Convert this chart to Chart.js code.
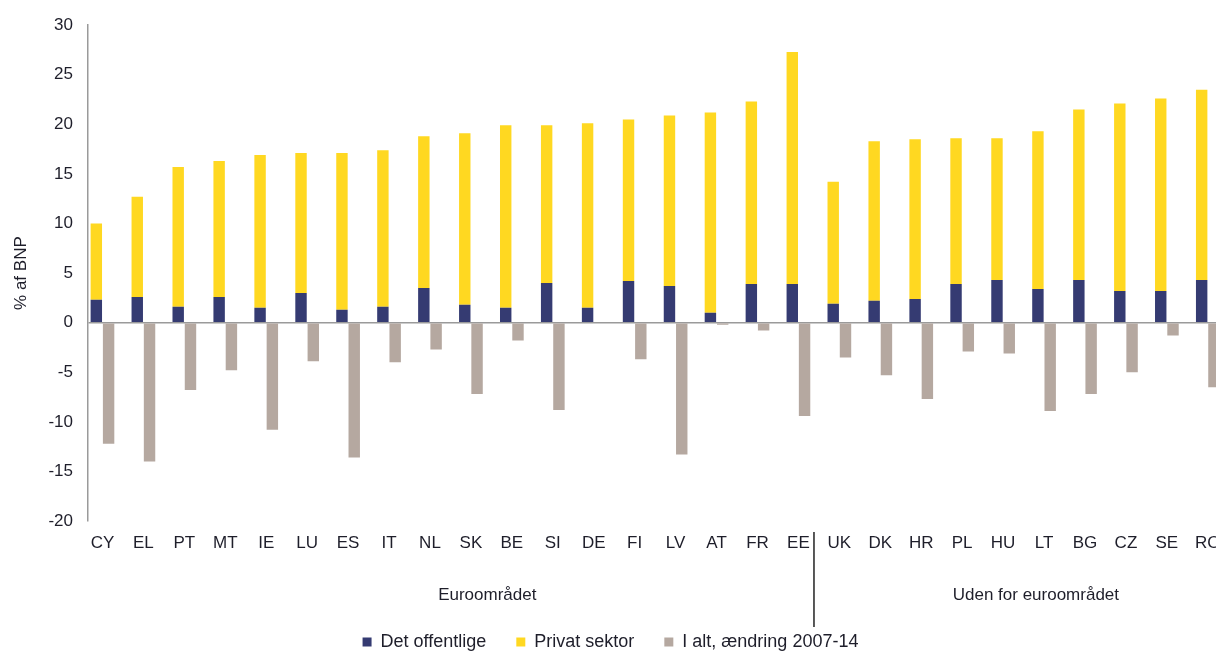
<!DOCTYPE html>
<html>
<head>
<meta charset="utf-8">
<script src="https://cdn.jsdelivr.net/npm/chart.js@4/dist/chart.umd.min.js"></script>
<style>
  html, body { margin: 0; padding: 0; background: #ffffff; overflow: hidden; }
  #wrap { width: 1216px; height: 652px; overflow: hidden; }
</style>
</head>
<body>
<div id="wrap"><canvas id="c" width="1216" height="661"></canvas></div>
<script>
// ---- data ----
const categories = ['CY','EL','PT','MT','IE','LU','ES','IT','NL','SK','BE','SI','DE','FI','LV','AT','FR','EE',
                    'UK','DK','HR','PL','HU','LT','BG','CZ','SE','RO'];
const detOffentlige = [2.3,2.6,1.6,2.6,1.5,3.0,1.3,1.6,3.5,1.8,1.5,4.0,1.5,4.2,3.7,1.0,3.9,3.9,
                       1.9,2.2,2.4,3.9,4.3,3.4,4.3,3.2,3.2,4.3];
const privatSektor = [7.7,10.1,14.1,13.7,15.4,14.1,15.8,15.8,15.3,17.3,18.4,15.9,18.6,16.3,17.2,20.2,18.4,23.4,
                      12.3,16.1,16.1,14.7,14.3,15.9,17.2,18.9,19.4,19.2];
const iAltAendring = [-12.2,-14.0,-6.8,-4.8,-10.8,-3.9,-13.6,-4.0,-2.7,-7.2,-1.8,-8.8,0,-3.7,-13.3,-0.2,-0.8,-9.4,
                      -3.5,-5.3,-7.7,-2.9,-3.1,-8.9,-7.2,-5.0,-1.3,-6.5];
const seriesNames = ['Det offentlige','Privat sektor','I alt, ændring 2007-14'];
const groupNames = ['Euroområdet','Uden for euroområdet'];
const groupRanges = [[0,17],[18,27]];
const yAxisTitle = '% af BNP';

// ---- styles ----
const FONT = '"Liberation Sans", Arial, sans-serif';
const TEXT = '#1e1e2a';
const NAVY = '#353b72';
const YELLOW = '#ffd821';
const GREY = '#b5a8a0';
const AXIS = '#9a9a9a';

const toXY = arr => arr.map((v, i) => ({ x: i, y: v }));

const groupPlugin = {
  id: 'groupLabels',
  afterDraw(chart, args, opts) {
    const { ctx, chartArea, scales: { x } } = chart;
    ctx.save();
    ctx.font = '17px ' + FONT;
    ctx.fillStyle = TEXT;
    ctx.textAlign = 'center';
    ctx.textBaseline = 'middle';
    groupNames.forEach((name, i) => {
      const [a, b] = groupRanges[i];
      const v = (a + b) / 2 + opts.labelShift[i];
      ctx.fillText(name, x.getPixelForValue(v), chartArea.bottom + opts.labelOffset);
    });
    const sep = x.getPixelForValue(groupRanges[0][1] + opts.separatorShift);
    ctx.strokeStyle = '#222';
    ctx.lineWidth = 1.5;
    ctx.beginPath();
    ctx.moveTo(sep, chartArea.bottom + opts.sepTop);
    ctx.lineTo(sep, chartArea.bottom + opts.sepBottom);
    ctx.stroke();
    ctx.restore();
  }
};

new Chart(document.getElementById('c'), {
  type: 'bar',
  data: {
    datasets: [
      { label: seriesNames[0], data: toXY(detOffentlige), stack: 's', backgroundColor: NAVY, borderWidth: 0 },
      { label: seriesNames[1], data: toXY(privatSektor), stack: 's', backgroundColor: YELLOW, borderWidth: 0 },
      { label: seriesNames[2], data: toXY(iAltAendring), stack: 't', backgroundColor: GREY, borderWidth: 0 }
    ]
  },
  options: {
    responsive: false,
    animation: false,
    categoryPercentage: 0.6,
    barPercentage: 0.93,
    layout: { padding: { top: 23, left: 5, right: 0, bottom: 0 } },
    plugins: {
      tooltip: { enabled: false },
      legend: {
        position: 'bottom',
        align: 'center',
        labels: {
          boxWidth: 9, boxHeight: 9, padding: 30,
          font: { family: FONT, size: 18 }, color: TEXT
        }
      },
      groupLabels: { labelShift: [0.9, 0.3], labelOffset: 74, separatorShift: 0.38, sepTop: 11, sepBottom: 106 }
    },
    scales: {
      x: {
        type: 'linear',
        offset: false,
        min: -0.354,
        max: 27.2,
        grid: { display: false, drawTicks: false },
        border: { display: false },
        afterBuildTicks: (scale) => { scale.ticks = categories.map((c, i) => ({ value: i })); },
        afterFit: (scale) => { scale.height = 82; scale.paddingLeft = 0; scale.paddingRight = 0; },
        ticks: {
          autoSkip: false, maxRotation: 0, minRotation: 0, padding: 12,
          font: { family: FONT, size: 17 }, color: TEXT,
          callback: (value) => categories[Math.round(value)]
        }
      },
      y: {
        stacked: true,
        min: -20,
        max: 30,
        ticks: { stepSize: 5, padding: 15, font: { family: FONT, size: 17 }, color: TEXT },
        grid: {
          drawTicks: false,
          lineWidth: 1.5,
          color: (c) => (c.tick && c.tick.value === 0 ? AXIS : 'rgba(0,0,0,0)')
        },
        border: { display: true, color: AXIS, width: 1.5 },
        title: {
          display: true, text: yAxisTitle, color: TEXT,
          font: { family: FONT, size: 17 }, padding: { top: 6, bottom: 2 }
        }
      }
    }
  },
  plugins: [groupPlugin]
});
</script>
</body>
</html>
